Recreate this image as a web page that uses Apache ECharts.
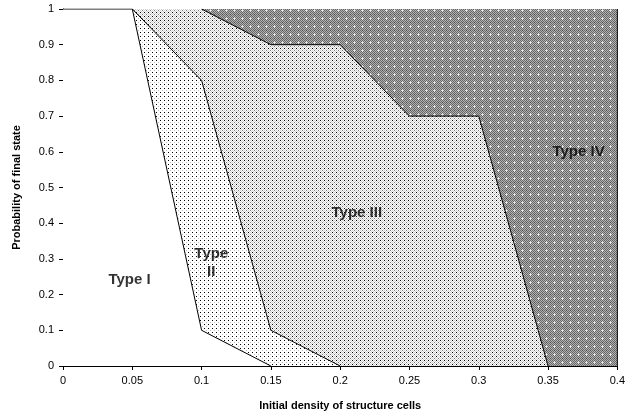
<!DOCTYPE html>
<html><head><meta charset="utf-8">
<script src="https://cdn.jsdelivr.net/npm/echarts@6/dist/echarts.min.js"></script>
<style>html,body{margin:0;padding:0;background:#fff}#c{width:628px;height:418px}</style>
</head><body><div id="c"></div>
<script>
// Boundary lines between regimes
const boundaryI_II = [[0, 1], [0.05, 1], [0.1, 0.1], [0.15, 0]];
const boundaryII_III = [[0.05, 1], [0.1, 0.8], [0.15, 0.1], [0.2, 0]];
const boundaryIII_IV = [[0.1, 1], [0.15, 0.9], [0.2, 0.9], [0.25, 0.7], [0.3, 0.7], [0.35, 0]];
const fullTop = [[0, 1], [0.4, 1]];
const rightEdge = [[0.4, 0], [0.4, 1]];
// Region labels
const regionLabels = [
  {name: 'Type I', value: [0.048, 0.24]},
  {name: 'Type\nII', value: [0.107, 0.29]},
  {name: 'Type III', value: [0.212, 0.43]},
  {name: 'Type IV', value: [0.372, 0.6]}
];

function makePattern(size, draw) {
  const c = document.createElement('canvas');
  c.width = size; c.height = size;
  const g = c.getContext('2d');
  draw(g, size);
  return {image: c, repeat: 'repeat'};
}
function px(g, x, y, col) { g.fillStyle = col; g.fillRect(x, y, 1, 1); }

const patII = makePattern(4, (g) => {
  g.fillStyle = '#fff'; g.fillRect(0, 0, 4, 4);
  px(g, 0, 0, '#000'); px(g, 2, 2, '#bdbdbd');
});
const patIII = makePattern(4, (g) => {
  g.fillStyle = '#fff'; g.fillRect(0, 0, 4, 4);
  for (let y = 0; y < 4; y++) for (let x = 0; x < 4; x++) if ((x + y) % 2 === 0) px(g, x, y, '#cfcfcf');
  px(g, 0, 0, '#000'); px(g, 2, 2, '#7a7a7a');
});
const patIV = makePattern(8, (g) => {
  for (let y = 0; y < 8; y++) for (let x = 0; x < 8; x++) px(g, x, y, (x + y) % 2 === 0 ? '#666' : '#b4b4b4');
  px(g, 2, 2, '#eee'); px(g, 1, 2, '#ddd'); px(g, 3, 2, '#ddd'); px(g, 2, 1, '#ddd'); px(g, 2, 3, '#ddd');
  px(g, 6, 6, '#444'); px(g, 2, 6, '#444');
});

const chart = echarts.init(document.getElementById('c'));
const font = 'Liberation Sans, Arial, sans-serif';
function area(data, color, z) {
  return {type: 'line', data: data, symbol: 'none', lineStyle: {width: 0, opacity: 0},
    areaStyle: {color: color, opacity: 1, origin: 'start'}, z: z, animation: false};
}
function line(data, z) {
  return {type: 'line', data: data, symbol: 'none', lineStyle: {color: '#000', width: 1}, z: z, animation: false};
}
chart.setOption({
  animation: false,
  grid: {left: 63, right: 9, top: 9, bottom: 52},
  xAxis: {type: 'value', min: 0, max: 0.4, interval: 0.05,
    name: 'Initial density of structure cells', nameLocation: 'middle', nameGap: 34,
    nameTextStyle: {fontFamily: font, fontWeight: 'bold', fontSize: 11, color: '#000'},
    axisLine: {show: true, lineStyle: {color: '#000', width: 1}},
    axisTick: {show: true, length: 4, lineStyle: {color: '#000'}},
    axisLabel: {fontFamily: font, fontSize: 11, color: '#000', margin: 9,
      formatter: v => String(parseFloat(v.toFixed(2)))},
    splitLine: {show: false}},
  yAxis: {type: 'value', min: 0, max: 1, interval: 0.1,
    name: 'Probability of final state', nameLocation: 'middle', nameGap: 41, nameRotate: 90,
    nameTextStyle: {fontFamily: font, fontWeight: 'bold', fontSize: 11, color: '#000'},
    axisLine: {show: true, lineStyle: {color: '#000', width: 1}},
    axisTick: {show: true, length: 4, lineStyle: {color: '#000'}},
    axisLabel: {fontFamily: font, fontSize: 11, color: '#000', margin: 9,
      formatter: v => String(parseFloat(v.toFixed(2)))},
    splitLine: {show: false}},
  series: [
    area(fullTop, patIV, 1),
    area([[0, 1]].concat(boundaryIII_IV), patIII, 2),
    area([[0, 1]].concat(boundaryII_III), patII, 3),
    area(boundaryI_II, '#ffffff', 4),
    line(boundaryI_II, 10),
    line(boundaryII_III, 10),
    line(boundaryIII_IV, 10),
    line(rightEdge, 10),
    {type: 'scatter', data: regionLabels, symbolSize: 0, z: 20, silent: true,
      label: {show: true, position: 'inside', formatter: p => p.name,
        fontFamily: font, fontWeight: 'bold', fontSize: 15, color: '#000', lineHeight: 18}}
  ]
});
</script></body></html>
